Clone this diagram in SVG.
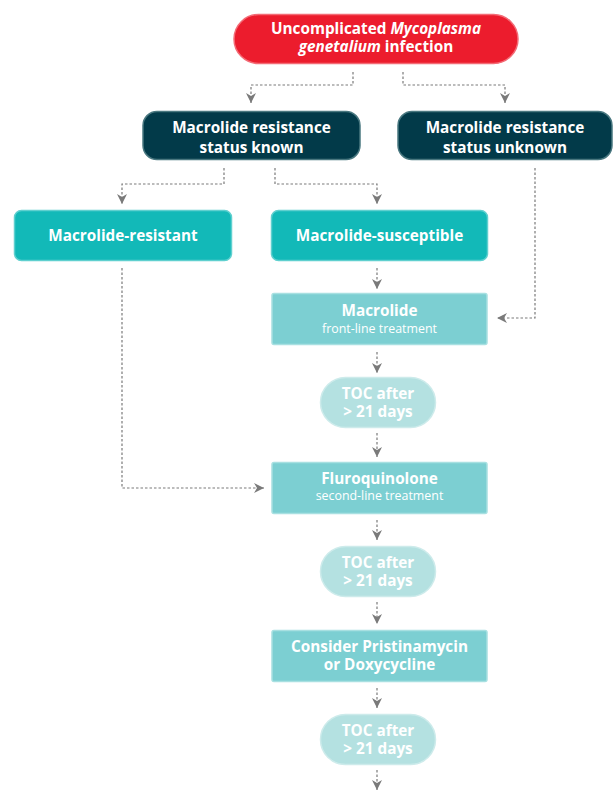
<svg xmlns="http://www.w3.org/2000/svg" width="615" height="796" viewBox="0 0 615 796">
<defs>
<marker id="arr" viewBox="0 0 10 10" refX="10" refY="5" markerWidth="10" markerHeight="10" markerUnits="userSpaceOnUse" orient="auto">
<path d="M0,0 L10,5 L0,10 L3,5 z" fill="#7a7a7a"/>
</marker>
<style>
.t{font-family:"Open Sans","Noto Sans",sans-serif;font-weight:700;font-size:15.3px;fill:#fff;text-anchor:middle}
.s{font-family:"Open Sans","Noto Sans",sans-serif;font-weight:400;font-size:12.4px;fill:#fff;text-anchor:middle}
.c{fill:none;stroke:#7a7a7a;stroke-width:1.2;stroke-dasharray:2.5 2;marker-end:url(#arr)}
.red{fill:#ec1c2d;stroke:#f36b76;stroke-width:1.5}
.dark{fill:#023a49;stroke:#4a7880;stroke-width:1.5}
.teal{fill:#12b9b8;stroke:#5fd0cf;stroke-width:1.5}
.lt{fill:#7ccfd2;stroke:#a8e0e1;stroke-width:1.5}
.toc{fill:#b4e1e1;stroke:#cdebeb;stroke-width:1.5}
</style>
</defs>
<rect width="615" height="796" fill="#fff"/>
<g id="connectors">
<path class="c" d="M353,72 V85 H251 V103"/>
<path class="c" d="M403,72 V85 H505 V103"/>
<path class="c" d="M224,168 V184 H122 V204"/>
<path class="c" d="M275,168 V184 H377 V204"/>
<path class="c" d="M535,168 V318 H497"/>
<path class="c" d="M377,268 V289"/>
<path class="c" d="M377,352 V373"/>
<path class="c" d="M377,433 V457"/>
<path class="c" d="M122,268 V488 H264"/>
<path class="c" d="M377,520 V540"/>
<path class="c" d="M377,602 V624"/>
<path class="c" d="M377,688 V708"/>
<path class="c" d="M377,770 V790"/>
</g>
<g id="infection">
<rect class="red" x="234" y="14.5" width="284" height="49" rx="24.5"/>
<text class="t" x="376" y="34">Uncomplicated <tspan font-style="italic">Mycoplasma</tspan></text>
<text class="t" x="376" y="52"><tspan font-style="italic">genetalium</tspan> infection</text>
</g>
<g id="known">
<rect class="dark" x="143" y="111.5" width="217" height="48" rx="14"/>
<text class="t" x="251.5" y="133">Macrolide resistance</text>
<text class="t" x="251.5" y="153">status known</text>
</g>
<g id="unknown">
<rect class="dark" x="398" y="111.5" width="214" height="48" rx="14"/>
<text class="t" x="505" y="133">Macrolide resistance</text>
<text class="t" x="505" y="153">status unknown</text>
</g>
<g id="resistant">
<rect class="teal" x="14.5" y="210.5" width="217" height="50" rx="7"/>
<text class="t" x="123" y="241">Macrolide-resistant</text>
</g>
<g id="susceptible">
<rect class="teal" x="271.5" y="210.5" width="216" height="50" rx="7"/>
<text class="t" x="379.5" y="241">Macrolide-susceptible</text>
</g>
<g id="macrolide">
<rect class="lt" x="272" y="293.5" width="215" height="51" rx="2"/>
<text class="t" x="379.5" y="316">Macrolide</text>
<text class="s" x="379.5" y="333">front-line treatment</text>
</g>
<g id="toc1">
<rect class="toc" x="320.5" y="377.5" width="115" height="50" rx="25"/>
<text class="t" x="378" y="399">TOC after</text>
<text class="t" x="378" y="417">&gt; 21 days</text>
</g>
<g id="fluro">
<rect class="lt" x="272" y="462.5" width="215" height="51" rx="2"/>
<text class="t" x="379.5" y="484">Fluroquinolone</text>
<text class="s" x="379.5" y="500">second-line treatment</text>
</g>
<g id="toc2">
<rect class="toc" x="320.5" y="546.5" width="115" height="50" rx="25"/>
<text class="t" x="378" y="568">TOC after</text>
<text class="t" x="378" y="586">&gt; 21 days</text>
</g>
<g id="consider">
<rect class="lt" x="272" y="630.5" width="215" height="51" rx="2"/>
<text class="t" x="379.5" y="652">Consider Pristinamycin</text>
<text class="t" x="379.5" y="670">or Doxycycline</text>
</g>
<g id="toc3">
<rect class="toc" x="320.5" y="714.5" width="115" height="50" rx="25"/>
<text class="t" x="378" y="736">TOC after</text>
<text class="t" x="378" y="754">&gt; 21 days</text>
</g>
</svg>
